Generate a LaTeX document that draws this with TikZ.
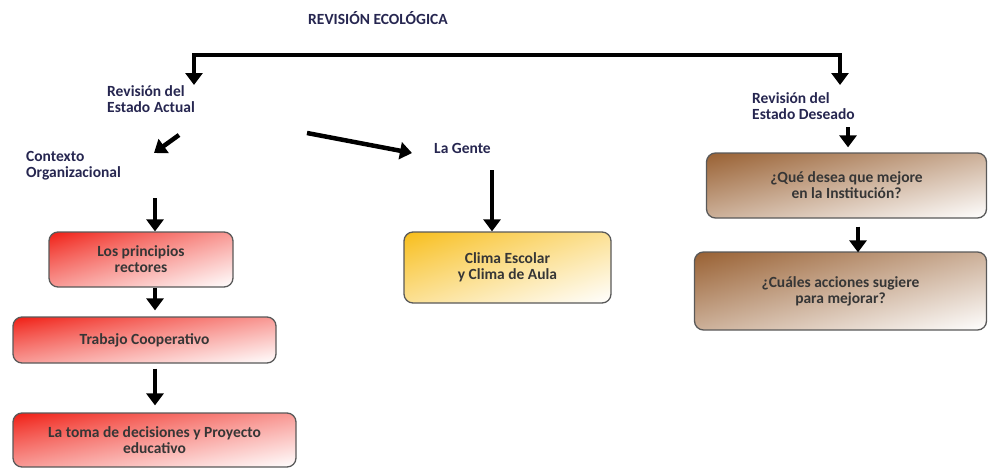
\documentclass[tikz,border=0pt]{standalone}
\usepackage{fontspec}
\setmainfont{Carlito}
\usetikzlibrary{arrows.meta}
\definecolor{navy}{HTML}{262650}
\definecolor{boxtext}{HTML}{363636}
\pgfdeclarefunctionalshading{redsh}{\pgfpointorigin}{\pgfpoint{100bp}{100bp}}{}{
  75 exch sub exch 25 sub add 100 div
  dup 0 lt {pop 0} if dup 1 gt {pop 1} if
  0.85 exp 1 exch sub dup dup
  0.06 mul 1 exch sub 3 1 roll
  0.90 mul 1 exch sub exch
  0.94 mul 1 exch sub}
\pgfdeclarefunctionalshading{yelsh}{\pgfpointorigin}{\pgfpoint{100bp}{100bp}}{}{
  75 exch sub exch 25 sub add 100 div
  dup 0 lt {pop 0} if dup 1 gt {pop 1} if
  0.9 exp 1 exch sub dup dup
  0.03 mul 1 exch sub 3 1 roll
  0.26 mul 1 exch sub exch
  0.91 mul 1 exch sub}
\pgfdeclarefunctionalshading{brnsh}{\pgfpointorigin}{\pgfpoint{100bp}{100bp}}{}{
  75 exch sub exch 25 sub add 100 div
  dup 0 lt {pop 0} if dup 1 gt {pop 1} if
  1.0 exp 1 exch sub dup dup
  0.40 mul 1 exch sub 3 1 roll
  0.62 mul 1 exch sub exch
  0.80 mul 1 exch sub}
\begin{document}
\begin{tikzpicture}[x=1pt,y=-1pt,
  lbl/.style={font=\bfseries\fontsize{15.5}{16}\selectfont, text=navy, align=left, anchor=west, inner sep=0pt},
  boxbase/.style={draw=black!65, line width=1.3pt, rounded corners=9pt, font=\bfseries\fontsize{15.5}{16}\selectfont, text=boxtext, align=center, inner sep=0pt},
  redbox/.style={boxbase, shading=redsh},
  yelbox/.style={boxbase, shading=yelsh},
  brnbox/.style={boxbase, shading=brnsh},
  arr/.style={line width=4.5pt, -{Triangle[width=17pt,length=12pt]}},
]
\useasboundingbox (0,0) rectangle (988,469);

% title
\node[font=\bfseries\fontsize{15.5}{16}\selectfont, text=navy, inner sep=0pt] (title) at (378,18) {REVISIÓN ECOLÓGICA};

% labels
\node[lbl] (actual) at (107,99) {Revisión del\\Estado Actual};
\node[lbl] (contexto) at (26,166) {Contexto\\Organizacional};
\node[lbl] (gente) at (434,148) {La Gente};
\node[lbl] (deseado) at (752,106) {Revisión del\\Estado Deseado};

% boxes
\node[redbox, minimum width=184pt, minimum height=55pt] (princ) at (141,259.5) {Los principios\\rectores};
\node[redbox, minimum width=263pt, minimum height=46pt] (trab) at (144.5,340) {Trabajo Cooperativo};
\node[redbox, minimum width=283pt, minimum height=54pt] (toma) at (154.5,440) {La toma de decisiones y Proyecto\\educativo};
\node[yelbox, minimum width=207pt, minimum height=71pt] (clima) at (507.5,267.5) {Clima Escolar\\y Clima de Aula};
\node[brnbox, minimum width=280pt, minimum height=65pt] (mejore) at (846.5,185.5) {¿Qué desea que mejore\\en la Institución?};
\node[brnbox, minimum width=292pt, minimum height=78pt] (acciones) at (840.5,291) {¿Cuáles acciones sugiere\\para mejorar?};

% free ends
\coordinate (tl) at (194,85);
\coordinate (tr) at (840,85);
\coordinate (a1s) at (179,135);
\coordinate (a1e) at (154,153);
\coordinate (a2s) at (307,133);
\coordinate (a2e) at (412,153);
\coordinate (g1) at (492,170);
\coordinate (c1) at (155,198);
\coordinate (d1) at (848,127);

% top bracket
\draw[line width=4.5pt, line join=miter, {Triangle[width=17pt,length=12pt]}-{Triangle[width=17pt,length=12pt]}]
  (tl) -- (194,55) -- (840,55) -- (tr);

% diagonal arrows
\draw[arr] (a1s) -- (a1e);
\draw[arr] (a2s) -- (a2e);

% vertical arrows
\draw[arr] (g1) -- (clima.north -| g1);
\draw[arr] (c1) -- (princ.north -| c1);
\draw[arr] (princ.south -| c1) -- ([yshift=6pt]trab.north -| c1);
\draw[arr] ([yshift=-5pt]trab.south -| c1) -- ([yshift=7pt]toma.north -| c1);
\draw[arr] (d1) -- ([yshift=5pt]mejore.north -| d1);
\draw[arr] ([yshift=-8pt]mejore.south -| 858,0) -- ([yshift=-1pt]acciones.north -| 858,0);
\end{tikzpicture}
\end{document}
